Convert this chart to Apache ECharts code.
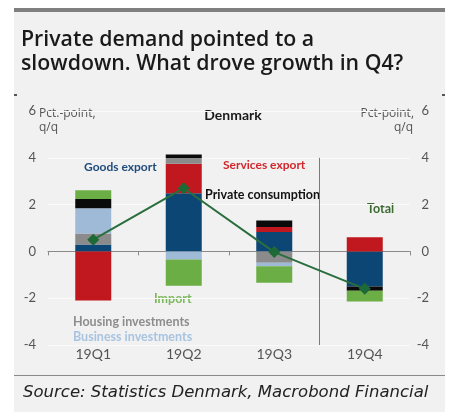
<!DOCTYPE html>
<html>
<head>
<meta charset="utf-8">
<script src="https://cdn.jsdelivr.net/npm/echarts@6/dist/echarts.min.js"></script>
<style>
  html, body { margin: 0; padding: 0; background: #ffffff; }
  #panel { position: absolute; left: 14px; top: 12px; width: 431px; height: 400px; background: #f1f1f1; }
  #bar { position: absolute; left: 14px; top: 8px; width: 431px; height: 4px; background: #7f7f7f; }
  #chart { position: absolute; left: 0; top: 0; width: 450px; height: 412px; }
</style>
</head>
<body>
<div id="panel"></div>
<div id="bar"></div>
<div id="chart"></div>
<script>
const categories = ['19Q1', '19Q2', '19Q3', '19Q4'];
const goodsExport = [0.3, 2.48, 0.83, -1.5];
const servicesExport = [-2.1, 1.27, 0.21, 0.6];
const housingInvestments = [0.47, 0.24, -0.48, 0];
const businessInvestments = [1.07, -0.35, -0.15, 0];
const privateConsumption = [0.4, 0.15, 0.28, -0.18];
const importContribution = [0.37, -1.12, -0.71, -0.46];
const total = [0.5, 2.7, -0.03, -1.6];
const yMin = -4, yMax = 6, yStep = 2;
const dividerLine = [[2.5, 4], [2.5, -4]];

const chart = echarts.init(document.getElementById('chart'), null, { renderer: 'canvas' });

const lab = { fontFamily: 'Lato', fontSize: 13, color: '#555555' };

function barSeries(name, data, color) {
  return { name, type: 'bar', stack: 'c', data, barWidth: 36,
    itemStyle: { color }, emphasis: { disabled: true }, z: 2 };
}

function txt(x, y, text, fill, opts) {
  return Object.assign({ type: 'text', x, y,
    style: Object.assign({ text, fill, font: 'bold 12px Lato', textVerticalAlign: 'middle' }, opts || {}) });
}

chart.setOption({
  animation: false,
  backgroundColor: 'transparent',
  grid: { left: 48, right: 40, top: 111, bottom: 67, containLabel: false },
  xAxis: [
    { type: 'category', data: categories, position: 'bottom',
      axisLine: { show: false, onZero: false }, axisTick: { show: false },
      axisLabel: { fontFamily: 'Lato', fontSize: 14, color: '#555555', margin: 2 } },
    { type: 'category', data: categories, position: 'bottom',
      axisLine: { show: true, onZero: true, lineStyle: { color: '#8a8a8a', width: 1 } },
      axisTick: { show: true, length: 4, lineStyle: { color: '#8a8a8a' } },
      axisLabel: { show: false } },
    { type: 'value', min: -0.5, max: 3.5, show: false }
  ],
  yAxis: [
    { type: 'value', position: 'left', min: yMin, max: yMax, interval: yStep,
      axisLine: { show: false }, axisTick: { show: false },
      axisLabel: Object.assign({ margin: 12 }, lab),
      splitLine: { lineStyle: { color: '#fafafa', width: 1 } } },
    { type: 'value', position: 'right', min: yMin, max: yMax, interval: yStep,
      axisLine: { show: false }, axisTick: { show: false },
      axisLabel: Object.assign({ margin: 19, align: 'right' }, lab),
      splitLine: { show: false } }
  ],
  series: [
    barSeries('Goods export', goodsExport, '#0c4675'),
    barSeries('Services export', servicesExport, '#c0181e'),
    barSeries('Housing investments', housingInvestments, '#8b8b8b'),
    barSeries('Business investments', businessInvestments, '#9ebad7'),
    barSeries('Private consumption', privateConsumption, '#0a0a0a'),
    barSeries('Import', importContribution, '#6cae46'),
    { name: 'Total', type: 'line', data: total, symbol: 'diamond', symbolSize: 12,
      itemStyle: { color: '#1d6a36' }, lineStyle: { color: '#2a6e3e', width: 2 }, z: 5 },
    { name: 'divider', type: 'line', xAxisIndex: 2, data: dividerLine, symbol: 'none',
      lineStyle: { color: '#7a7a7a', width: 1 }, z: 1 }
  ],
  graphic: [
    { type: 'rect', shape: { x: 14, y: 94, width: 3, height: 2 }, style: { fill: '#555' } },
    { type: 'rect', shape: { x: 442, y: 94, width: 3, height: 2 }, style: { fill: '#555' } },
    txt(21, 40, 'Private demand pointed to a', '#1a1a1a', { font: '600 21.3px "Open Sans"' }),
    txt(21, 64, 'slowdown. What drove growth in Q4?', '#1a1a1a', { font: '600 21.3px "Open Sans"' }),
    txt(39, 114, 'Pct.-point,', '#555555', { font: '12px "Open Sans"' }),
    txt(39, 128, 'q/q', '#555555', { font: '12px "Open Sans"' }),
    txt(414, 114, 'Pct-point,', '#555555', { font: '12px "Open Sans"', textAlign: 'right' }),
    txt(413, 128, 'q/q', '#555555', { font: '12px "Open Sans"', textAlign: 'right' }),
    txt(233, 115, 'Denmark', '#1a1a1a', { font: 'bold 14px Lato', textAlign: 'center' }),
    txt(84, 167, 'Goods export', '#1f4b7a'),
    txt(223, 165, 'Services export', '#d1262c'),
    txt(205, 195, 'Private consumption', '#111111', { font: 'bold 12.5px Lato' }),
    txt(367, 209, 'Total', '#3c6b32', { font: 'bold 12.5px Lato' }),
    txt(154, 299, 'Import', '#7bb85b', { font: 'bold 12.5px Lato' }),
    txt(73, 322, 'Housing investments', '#8d8d8d', { font: 'bold 12.5px Lato' }),
    txt(73, 337, 'Business investments', '#a8c4e1', { font: 'bold 12.5px Lato' }),
    { type: 'rect', shape: { x: 14, y: 375, width: 431, height: 1 }, style: { fill: '#8a8a8a' } },
    txt(23, 393, 'Source: Statistics Denmark, Macrobond Financial', '#222222', { font: 'oblique 16.5px "DejaVu Sans"' })
  ]
});
</script>
</body>
</html>
